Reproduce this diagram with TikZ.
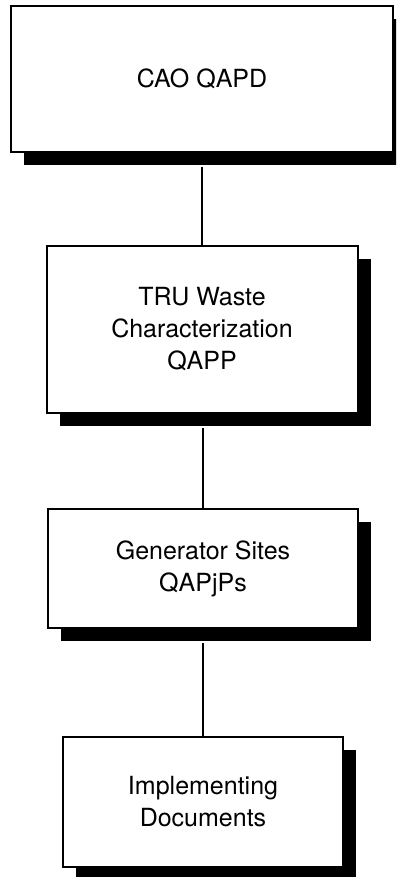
\documentclass[tikz,border=0pt]{standalone}
\usepackage{fontspec}
\setmainfont{TeX Gyre Heros}
\usetikzlibrary{shadows}
\begin{document}
\begin{tikzpicture}[x=1pt,y=-1pt,
  docbox/.style={draw=black, line width=2pt, fill=white, align=center,
    inner sep=0pt, font=\fontsize{25}{32}\selectfont,
    general shadow={fill=black, shadow xshift=13pt, shadow yshift=-13pt}},
  link/.style={draw=black, line width=1.5pt}]
\useasboundingbox (0,0) rectangle (396,877);
\begin{scope}
\clip (0,0) rectangle (396,877);
\node[docbox, minimum width=382pt, minimum height=146pt] (cao) at (202,79) {CAO QAPD};
\node[docbox, minimum width=311pt, minimum height=167pt] (tru) at (202,329.5) {TRU Waste\\Characterization\\QAPP};
\node[docbox, minimum width=310pt, minimum height=119pt] (gen) at (203,568.5) {Generator Sites\\QAPjPs};
\node[docbox, minimum width=280pt, minimum height=130pt] (imp) at (203,802) {Implementing\\Documents};
\end{scope}
\begin{scope}[on background layer/.try]
\end{scope}
\draw[link] (cao.south -| tru.north) ++(0,14) -- (tru.north);
\draw[link] (tru.south -| gen.north) ++(0,14) -- (gen.north);
\draw[link] (gen.south) ++(0,14) -- (imp.north);
\end{tikzpicture}
\end{document}
